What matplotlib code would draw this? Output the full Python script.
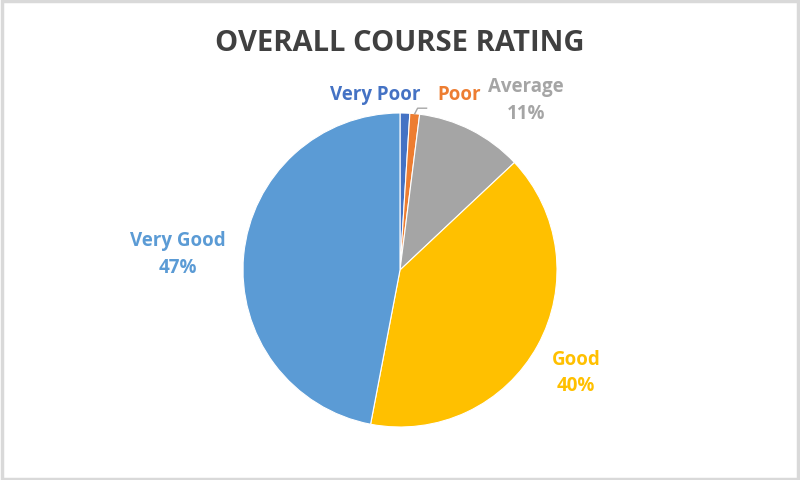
import matplotlib.pyplot as plt
import numpy as np

labels = ["Very Poor", "Poor", "Average", "Good", "Very Good"]
shares = [1, 1, 11, 40, 47]
colors = ["#4472C4", "#ED7D31", "#A5A5A5", "#FFC000", "#5B9BD5"]

plt.rcParams['font.family'] = ['Open Sans', 'DejaVu Sans']

fig = plt.figure(figsize=(8, 4.8), dpi=100)
fig.patch.set_facecolor("white")
fig.patches.append(plt.Rectangle((0.002, 0.003), 0.996, 0.994, transform=fig.transFigure,
                                 fill=False, edgecolor="#D9D9D9", linewidth=2.5))

fig.text(0.5, 0.91, "OVERALL COURSE RATING", ha="center", va="center",
         fontsize=21, fontweight="bold", color="#404040")

# pie: centre (400, 270) px, radius ~157 px
r_px = 157
ax = fig.add_axes([(400 - r_px) / 800, (210 - r_px) / 480, 2 * r_px / 800, 2 * r_px / 480])
wedges, _ = ax.pie(shares, colors=colors, startangle=90, counterclock=False,
                   wedgeprops=dict(edgecolor="white", linewidth=0.8))
ax.set_xlim(-1, 1)
ax.set_ylim(-1, 1)
ax.set_aspect("auto")
ax.axis("off")

# (distance, angle tweak in degrees) for the bigger slices
place = {"Average": (1.345, -9.5), "Good": (1.30, -1.5), "Very Good": (1.42, 1.5)}
for w, lab, val, c in zip(wedges, labels, shares, colors):
    if lab in place:
        d, tweak = place[lab]
        mid = np.deg2rad((w.theta1 + w.theta2) / 2 + tweak)
        ax.text(d * np.cos(mid), d * np.sin(mid), f"{lab}\n{val}%", ha="center",
                va="center", color=c, fontsize=13.5, fontweight="bold",
                linespacing=1.45, clip_on=False)

# the two tiny slices: names only, side by side above the pie
ax.text(0.13, 1.115, "Very Poor", ha="right", va="center", color=colors[0],
        fontsize=13.5, fontweight="bold", clip_on=False)
ax.text(0.235, 1.115, "Poor", ha="left", va="center", color=colors[1],
        fontsize=13.5, fontweight="bold", clip_on=False)

# leader line from the Poor slice
poor_mid = np.deg2rad((wedges[1].theta1 + wedges[1].theta2) / 2)
px, py = np.cos(poor_mid), np.sin(poor_mid)
ax.plot([px, px + 0.018, px + 0.075], [py, py + 0.035, py + 0.035],
        color="#A6A6A6", lw=1, clip_on=False)

fig.savefig("out.png", dpi=100)
